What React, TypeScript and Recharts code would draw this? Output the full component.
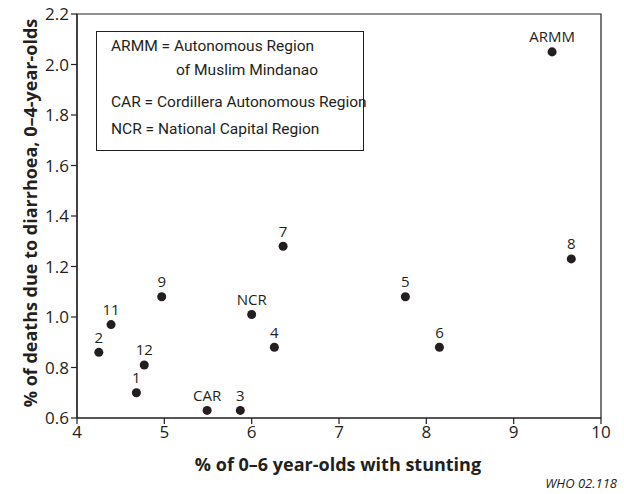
import { ScatterChart, Scatter, XAxis, YAxis, ReferenceArea, LabelList } from "recharts";

const regions = ["ARMM", "8", "5", "6", "7", "9", "NCR", "4", "11", "2", "12", "1", "CAR", "3"];
const stunting = [9.44, 9.66, 7.76, 8.15, 6.36, 4.97, 6.0, 6.26, 4.39, 4.25, 4.77, 4.68, 5.49, 5.87];
const diarrhoeaDeaths = [2.05, 1.23, 1.08, 0.88, 1.28, 1.08, 1.01, 0.88, 0.97, 0.86, 0.81, 0.7, 0.63, 0.63];

const xTicks = [4, 5, 6, 7, 8, 9, 10];
const yTicks = [0.6, 0.8, 1.0, 1.2, 1.4, 1.6, 1.8, 2.0, 2.2];

const legendLines = [
  "ARMM = Autonomous Region",
  "of Muslim Mindanao",
  "CAR = Cordillera Autonomous Region",
  "NCR = National Capital Region",
];

const points = regions.map((name, i) => ({ name, x: stunting[i], y: diarrhoeaDeaths[i] }));

const INK = "#231f20";

export default function App() {
  const line = { position: "absolute" as const, left: 14, whiteSpace: "nowrap" as const };
  return (
    <div style={{ position: "absolute", left: 0, top: 0, width: 624, height: 494, background: "#fff", fontFamily: "'Open Sans', sans-serif", color: INK, overflow: "hidden" }}>
      <ScatterChart width={624} height={494} margin={{ top: 14, right: 23, bottom: 46, left: 0 }}>
        <XAxis
          type="number"
          dataKey="x"
          domain={[4, 10]}
          ticks={xTicks}
          height={30}
          tick={{ fontSize: 17, fill: INK }}
          axisLine={{ stroke: INK, strokeWidth: 1.2 }}
          tickLine={{ stroke: INK, strokeWidth: 1.2 }}
          label={{
            content: () => (
              <text x={338} y={471} textAnchor="middle" fontSize={18} fontWeight="bold" fill={INK}>
                % of 0–6 year-olds with stunting
              </text>
            ),
          }}
        />
        <YAxis
          type="number"
          dataKey="y"
          domain={[0.6, 2.2]}
          ticks={yTicks}
          width={77}
          tickFormatter={(v: number) => v.toFixed(1)}
          tick={{ fontSize: 17, fill: INK }}
          axisLine={{ stroke: INK, strokeWidth: 1.2 }}
          tickLine={{ stroke: INK, strokeWidth: 1.2 }}
          label={{
            content: () => (
              <text x={37} y={213} transform="rotate(-90 37 213)" textAnchor="middle" fontSize={18} fontWeight="bold" fill={INK}>
                % of deaths due to diarrhoea, 0–4-year-olds
              </text>
            ),
          }}
        />
        <ReferenceArea x1={4} x2={10} y1={0.6} y2={2.2} fill="none" stroke={INK} strokeWidth={1.2} />
        <Scatter data={points} fill={INK} isAnimationActive={false}>
          <LabelList dataKey="name" position="top" offset={5} fontSize={15} fill={INK} />
        </Scatter>
      </ScatterChart>
      <div
        style={{
          position: "absolute",
          left: 96,
          top: 31,
          width: 266,
          height: 118,
          border: `1.2px solid ${INK}`,
          fontFamily: "Roboto, sans-serif",
          fontSize: 15.5,
          lineHeight: "15.5px",
        }}
      >
        <div style={{ ...line, top: 7 }}>{legendLines[0]}</div>
        <div style={{ ...line, left: 79, top: 31 }}>{legendLines[1]}</div>
        <div style={{ ...line, top: 63 }}>{legendLines[2]}</div>
        <div style={{ ...line, top: 90 }}>{legendLines[3]}</div>
      </div>
      <div style={{ position: "absolute", right: 7, top: 477, fontSize: 13, lineHeight: "13px", fontStyle: "italic", whiteSpace: "nowrap" }}>
        WHO 02.118
      </div>
    </div>
  );
}
